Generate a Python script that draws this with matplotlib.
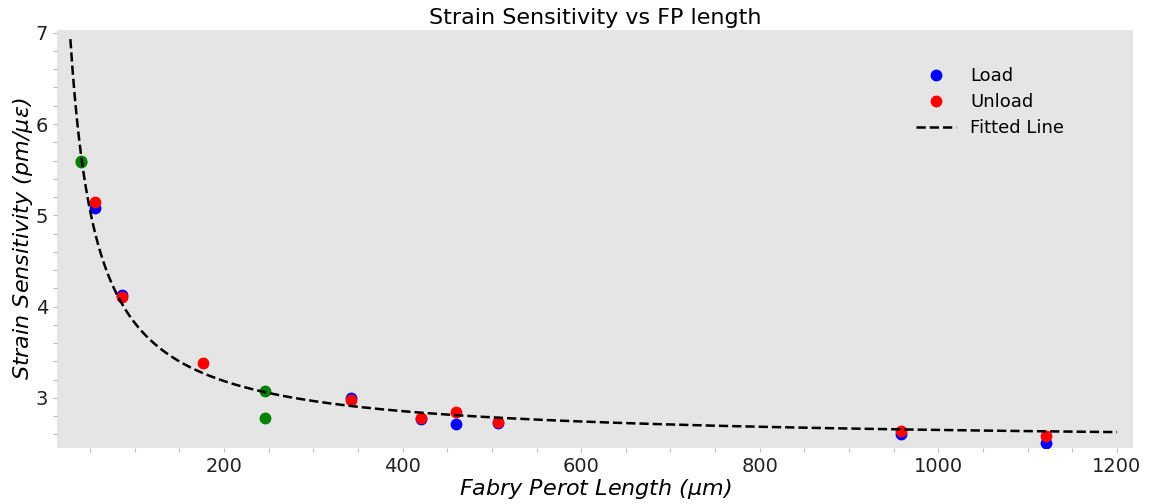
import numpy as np
import matplotlib
matplotlib.use("Agg")
import matplotlib.pyplot as plt
from matplotlib.ticker import MultipleLocator

# Data
load_x = [55.5, 85.7, 342, 420.7, 460, 507, 958.5, 1120]
load_y = [5.08, 4.13, 3.00, 2.77, 2.71, 2.72, 2.60, 2.50]
unload_x = [55.5, 85.7, 176.5, 342, 420.7, 460, 507, 958.5, 1120]
unload_y = [5.15, 4.11, 3.38, 2.98, 2.78, 2.85, 2.73, 2.64, 2.58]
green_x = [39.8, 40.2, 246, 246]
green_y = [5.60, 5.58, 3.08, 2.78]

# Fitted curve parameters (y = c + b * x^-n)
fit_c = 2.50
fit_b = 105.0
fit_n = 0.95
fit_range = (28, 1200)

title = "Strain Sensitivity vs FP length"
xlabel = "Fabry Perot Length ($\\mu$m)"
ylabel = "Strain Sensitivity (pm/$\\mu\\varepsilon$)"

fig = plt.figure(figsize=(11.49, 5.04), dpi=100)
ax = fig.add_axes([0.0496, 0.111, 0.9365, 0.8295])
ax.set_facecolor("#E5E5E5")
for s in ax.spines.values():
    s.set_visible(False)

xf = np.linspace(fit_range[0], fit_range[1], 500)
yf = fit_c + fit_b * xf ** (-fit_n)

ax.plot(green_x, green_y, "o", color="green", markersize=7.5, zorder=3)
ax.plot(load_x, load_y, "o", color="blue", markersize=7.5, label="Load", zorder=3)
ax.plot(unload_x, unload_y, "o", color="red", markersize=7.5, label="Unload", zorder=4)
ax.plot(xf, yf, "--", color="black", linewidth=1.8, label="Fitted Line", zorder=5)

ax.set_xlim(13, 1218)
ax.set_ylim(2.45, 7.03)
ax.xaxis.set_major_locator(MultipleLocator(200))
ax.xaxis.set_minor_locator(MultipleLocator(50))
ax.yaxis.set_major_locator(MultipleLocator(1))
ax.yaxis.set_minor_locator(MultipleLocator(0.2))
ax.tick_params(which="both", direction="out", length=3, width=0.8, color="#BBBBBB",
               labelsize=14, labelcolor="#222222")

ax.set_title(title, fontsize=16, pad=4)
ax.set_xlabel(xlabel, fontsize=16, fontstyle="italic", labelpad=1)
ax.set_ylabel(ylabel, fontsize=16, fontstyle="italic", labelpad=0)

ax.legend(loc="upper right", frameon=False, fontsize=13, bbox_to_anchor=(0.951, 0.95),
          handlelength=2.2, labelspacing=0.45)

fig.savefig("out.png", dpi=100)
